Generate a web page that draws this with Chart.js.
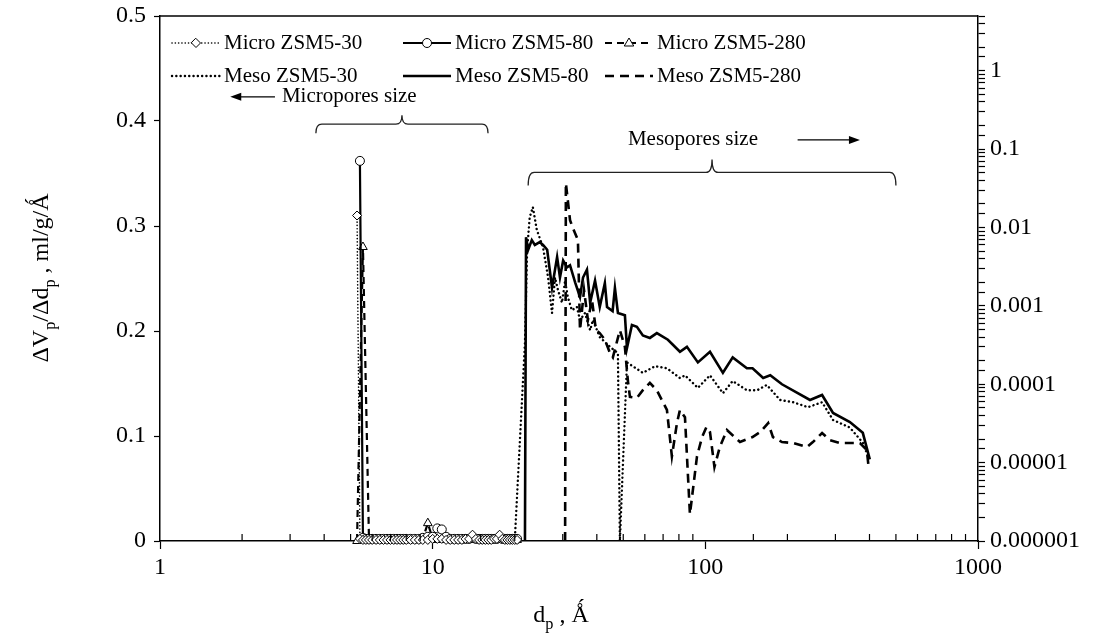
<!DOCTYPE html>
<html>
<head>
<meta charset="utf-8">
<title>Pore size distribution of ZSM5 samples</title>
<script src="https://cdn.jsdelivr.net/npm/chart.js@4.4.1/dist/chart.umd.min.js"></script>
<style>
  html, body { margin: 0; padding: 0; background: #fff; }
  #wrap { width: 1113px; height: 644px; position: relative; }
</style>
</head>
<body>
<div id="wrap"><canvas id="psd"></canvas></div>
<script>
// pore diameters (Å) of the micropore grid, shared by the three micro series
const microSize = [5.28, 5.41, 5.55, 5.69, 5.84, 6.0, 6.2, 6.4, 6.6, 6.8,
  7.0, 7.2, 7.4, 7.6, 7.8, 8.0, 8.3, 8.6, 8.9, 9.2,
  9.6, 10.0, 10.4, 10.8, 11.2, 11.6, 12.0, 12.4, 12.8, 13.2,
  13.6, 14.0, 14.4, 14.8, 15.2, 15.6, 16.0, 16.4, 16.8, 17.2,
  17.6, 18.0, 18.4, 18.8, 19.2, 19.6, 20.0, 20.4];

// dVp/ddp, ml/g/Å (left axis)
const microZsm30 = [0.31, 0.002, 0.001, 0.001, 0.001, 0.001, 0.001, 0.001, 0.001, 0.001,
  0.001, 0.001, 0.001, 0.001, 0.001, 0.001, 0.001, 0.001, 0.001, 0.001,
  0.001, 0.002, 0.002, 0.002, 0.001, 0.001, 0.001, 0.001, 0.001, 0.002,
  0.002, 0.006, 0.002, 0.001, 0.001, 0.001, 0.001, 0.001, 0.002, 0.002,
  0.006, 0.002, 0.001, 0.001, 0.001, 0.001, 0.001, 0.001];
const microZsm80 = [null, 0.362, 0.003, 0.002, 0.002, 0.002, 0.002, 0.002, 0.002, 0.002,
  0.002, 0.002, 0.002, 0.002, 0.002, 0.002, 0.002, 0.002, 0.002, 0.003,
  0.004, 0.004, 0.012, 0.011, 0.004, 0.002, 0.002, 0.002, 0.002, 0.002,
  0.002, 0.003, 0.002, 0.002, 0.002, 0.002, 0.002, 0.002, 0.002, 0.002,
  0.003, 0.002, 0.002, 0.002, 0.002, 0.002, 0.002, 0.002];
const microZsm280 = [0, null, 0.28, null, 0.002, 0.001, 0.001, 0.001, 0.001, 0.001,
  0.001, 0.001, 0.001, 0.001, 0.001, 0.001, 0.001, 0.001, 0.001, 0.002,
  0.017, 0.002, 0.001, 0.001, 0.001, 0.001, 0.001, 0.001, 0.001, 0.001,
  0.001, 0.001, 0.001, 0.001, 0.001, 0.001, 0.001, 0.001, 0.001, 0.001,
  0.001, 0.001, 0.001, 0.001, 0.001, 0.001, 0.001, 0.001];

// mesopore branches (right, logarithmic axis)
const mesoSize30 = [20.0, 21.8, 22.2, 22.7, 23.3, 24.1, 25.4, 26.5, 27.4, 28.1,
  28.8, 29.8, 30.6, 31.3, 32.4, 33.8, 34.7, 36.2, 37.8, 38.7,
  41.0, 44.7, 47.8, 48.6, 51.6, 59.0, 65.4, 72.3, 80.7, 84.2,
  93.9, 104, 116, 126, 142, 155, 168, 188, 210, 238,
  268, 294, 339, 378, 395];
const mesoZsm30 = [0.000001, 0.00034, 0.0052, 0.0136, 0.0182, 0.0093, 0.0056, 0.0023, 0.00081, 0.0023,
  0.0016, 0.0011, 0.0021, 0.0013, 0.00088, 0.00097, 0.00066, 0.00081, 0.00049, 0.00066,
  0.0004, 0.0003, 0.00025, 0.000001, 0.00019, 0.00014, 0.00017, 0.00016, 0.00012, 0.00013,
  0.00009, 0.00013, 0.000077, 0.00011, 0.000084, 0.000084, 0.000098, 0.000063, 0.000059, 0.000051,
  0.000059, 0.000035, 0.000028, 0.000018, 0.000012];

const mesoSize80 = [21.8, 22.0, 22.4, 23.1, 23.7, 24.7, 25.4, 26.3, 27.4, 28.6,
  29.3, 30.1, 31.1, 31.9, 33.3, 34.7, 35.6, 36.8, 37.8, 39.4,
  41.0, 42.8, 43.6, 45.7, 46.6, 47.8, 50.7, 51.6, 53.8, 56.1,
  59.0, 62.6, 66.4, 72.9, 80.7, 85.6, 93.9, 104, 116, 126,
  142, 149, 163, 173, 191, 242, 268, 294, 339, 378, 401];
const mesoZsm80 = [0.000001, 0.0075, 0.0052, 0.0069, 0.006, 0.0065, 0.006, 0.0052, 0.0017, 0.0042,
  0.0023, 0.0038, 0.0031, 0.0033, 0.002, 0.0013, 0.0023, 0.0029, 0.0011, 0.0021,
  0.00097, 0.00195, 0.00097, 0.00086, 0.0017, 0.00081, 0.00076, 0.00029, 0.00057, 0.00054,
  0.00042, 0.00039, 0.00045, 0.00037, 0.00026, 0.0003, 0.00019, 0.00026, 0.00014, 0.00022,
  0.00016, 0.00016, 0.00012, 0.00013, 0.0001, 0.000063, 0.000073, 0.000043, 0.000033, 0.000024, 0.000011];

const mesoSize280 = [30.6, 30.8, 31.9, 32.7, 34.1, 34.7, 35.9, 37.1, 38.4, 39.7,
  41.0, 42.8, 44.7, 45.8, 48.6, 50.7, 52.0, 52.9, 56.1, 59.0,
  62.6, 66.4, 72.3, 75.4, 78.7, 80.7, 84.2, 87.8, 93.2, 97.2,
  101, 104, 108, 113, 120, 134, 149, 159, 170, 177,
  191, 210, 236, 248, 268, 286, 312, 369, 391, 398];
const mesoZsm280 = [0.000001, 0.0368, 0.0124, 0.0098, 0.0069, 0.00049, 0.00159, 0.00066, 0.00119, 0.00049,
  0.00045, 0.00037, 0.00025, 0.00022, 0.00049, 0.0003, 0.00011, 0.000069, 0.000067, 0.000084,
  0.000104, 0.000084, 0.000047, 0.000012, 0.000032, 0.000047, 0.000038, 0.0000022, 0.000012, 0.000021,
  0.0000285, 0.0000246, 0.0000088, 0.0000158, 0.0000261, 0.0000183, 0.0000212, 0.0000246, 0.000032, 0.0000212,
  0.0000183, 0.0000178, 0.0000158, 0.0000183, 0.0000239, 0.0000194, 0.0000178, 0.0000178, 0.0000145, 0.0000081];

// labelled ticks
const xTickValues = [1, 10, 100, 1000];
const xTickLabels = ['1', '10', '100', '1000'];
const leftTickValues = [0, 0.1, 0.2, 0.3, 0.4, 0.5];
const leftTickLabels = ['0', '0.1', '0.2', '0.3', '0.4', '0.5'];
const rightTickValues = [0.000001, 0.00001, 0.0001, 0.001, 0.01, 0.1, 1];
const rightTickLabels = ['0.000001', '0.00001', '0.0001', '0.001', '0.01', '0.1', '1'];

const serif = '"Liberation Serif", "Times New Roman", "DejaVu Serif", serif';
const TICK_FONT = 24;
const TEXT_FONT = 21;

function points(sizes, values) {
  return sizes.map((d, i) => ({ x: d, y: values[i] }));
}

// finds the label of a tick when it sits on one of the labelled values
function labelFor(value, values, labels, logScale) {
  for (let i = 0; i < values.length; i++) {
    const a = values[i];
    const close = logScale
      ? Math.abs(Math.log10(value) - Math.log10(a)) < 1e-6
      : Math.abs(value - a) < 1e-9;
    if (close) return labels[i];
  }
  return '';
}

function markerPath(ctx, style, x, y, r) {
  ctx.beginPath();
  if (style === 'circle') {
    ctx.arc(x, y, r, 0, Math.PI * 2);
  } else if (style === 'rectRot') {
    ctx.moveTo(x, y - r); ctx.lineTo(x + r, y); ctx.lineTo(x, y + r); ctx.lineTo(x - r, y);
    ctx.closePath();
  } else {
    ctx.moveTo(x, y - r); ctx.lineTo(x + r * 0.95, y + r * 0.6); ctx.lineTo(x - r * 0.95, y + r * 0.6);
    ctx.closePath();
  }
}

// text with subscript parts, centred on x
function drawRich(ctx, parts, x, y, size) {
  const widths = parts.map(([s, sub]) => {
    ctx.font = (sub ? size * 0.68 : size) + 'px ' + serif;
    return ctx.measureText(s).width;
  });
  let cx = x - widths.reduce((a, b) => a + b, 0) / 2;
  parts.forEach(([s, sub], i) => {
    ctx.font = (sub ? size * 0.68 : size) + 'px ' + serif;
    ctx.fillText(s, cx, y + (sub ? size * 0.28 : 0));
    cx += widths[i];
  });
}

function drawBrace(ctx, x0, x1, y, depth) {
  const xm = (x0 + x1) / 2;
  const r = 6;
  ctx.beginPath();
  ctx.moveTo(x0, y + depth);
  ctx.quadraticCurveTo(x0, y, x0 + r, y);
  ctx.lineTo(xm - r, y);
  ctx.quadraticCurveTo(xm, y, xm, y - depth);
  ctx.quadraticCurveTo(xm, y, xm + r, y);
  ctx.lineTo(x1 - r, y);
  ctx.quadraticCurveTo(x1, y, x1, y + depth);
  ctx.stroke();
}

function drawArrow(ctx, xTail, xHead, y) {
  const dir = Math.sign(xHead - xTail);
  ctx.beginPath();
  ctx.moveTo(xTail, y);
  ctx.lineTo(xHead - dir * 8, y);
  ctx.stroke();
  ctx.beginPath();
  ctx.moveTo(xHead, y);
  ctx.lineTo(xHead - dir * 11, y - 4);
  ctx.lineTo(xHead - dir * 11, y + 4);
  ctx.closePath();
  ctx.fill();
}

// keep the plot box fixed: no extra room for half-height edge labels
function noEdgePadding(s) {
  s.paddingTop = 0;
  s.paddingBottom = 0;
  s.paddingLeft = 0;
  s.paddingRight = 0;
}

// top edge of the box, inward minor ticks, axis titles, braces and the legend
const decorations = {
  id: 'decorations',
  afterDraw(chart) {
    const { ctx, chartArea: a, scales } = chart;
    const x = scales.x, y = scales.y;
    ctx.save();
    ctx.strokeStyle = '#000';
    ctx.fillStyle = '#000';

    ctx.lineWidth = 1.5;
    ctx.beginPath(); ctx.moveTo(a.left, a.top); ctx.lineTo(a.right, a.top); ctx.stroke();

    ctx.lineWidth = 1.2;
    x.ticks.forEach(t => {
      if (labelFor(t.value, xTickValues, xTickLabels, true)) return;
      const px = x.getPixelForValue(t.value);
      ctx.beginPath(); ctx.moveTo(px, a.bottom); ctx.lineTo(px, a.bottom - 7); ctx.stroke();
    });

    // axis titles
    ctx.textBaseline = 'alphabetic';
    drawRich(ctx, [['d', false], ['p', true], [' , Ǻ', false]], (a.left + a.right) / 2 - 8, 622, 24);
    ctx.save();
    ctx.translate(40, 278);
    ctx.rotate(-Math.PI / 2);
    drawRich(ctx, [['ΔV', false], ['p', true], ['/Δd', false], ['p', true], [' , ml/g/Ǻ', false]], 0, 8, 24);
    ctx.restore();

    // pore range annotations
    ctx.lineWidth = 1.3;
    ctx.strokeStyle = '#222';
    drawBrace(ctx, x.getPixelForValue(3.73), x.getPixelForValue(15.96), y.getPixelForValue(0.397), 9);
    drawBrace(ctx, x.getPixelForValue(22.4), x.getPixelForValue(500), y.getPixelForValue(0.351), 13);
    ctx.strokeStyle = '#000';
    drawArrow(ctx, x.getPixelForValue(2.64), x.getPixelForValue(1.81), y.getPixelForValue(0.423));
    drawArrow(ctx, x.getPixelForValue(218), x.getPixelForValue(369), y.getPixelForValue(0.382));
    ctx.font = TEXT_FONT + 'px ' + serif;
    ctx.textBaseline = 'middle';
    ctx.textAlign = 'left';
    ctx.fillText('Micropores size', x.getPixelForValue(2.8), y.getPixelForValue(0.423));
    ctx.fillText('Mesopores size', x.getPixelForValue(52), y.getPixelForValue(0.382));

    // legend, two rows of three
    const cols = [172, 403, 605];
    const rows = [43, 76];
    const sampleW = 48;
    chart.data.datasets.forEach((ds, i) => {
      const cx = cols[i % 3], cy = rows[Math.floor(i / 3)];
      ctx.save();
      ctx.strokeStyle = '#000';
      ctx.lineWidth = ds.borderWidth;
      ctx.setLineDash(ds.borderDash || []);
      ctx.lineCap = ds.borderCapStyle || 'butt';
      ctx.beginPath(); ctx.moveTo(cx, cy); ctx.lineTo(cx + sampleW, cy); ctx.stroke();
      ctx.setLineDash([]);
      if (ds.pointRadius > 0) {
        ctx.fillStyle = '#fff';
        ctx.lineWidth = 1;
        markerPath(ctx, ds.pointStyle, cx + sampleW / 2, cy, ds.pointRadius);
        ctx.fill(); ctx.stroke();
      }
      ctx.restore();
      ctx.fillText(ds.label, cx + sampleW + 4, cy);
    });
    ctx.restore();
  }
};

const microStyle = {
  yAxisID: 'y', borderColor: '#000', pointBackgroundColor: '#fff', pointBorderColor: '#000',
  pointBorderWidth: 1, pointHoverRadius: 0, spanGaps: true, clip: false, tension: 0
};
const mesoStyle = {
  yAxisID: 'y2', borderColor: '#000', pointRadius: 0, pointHoverRadius: 0, tension: 0
};

const datasets = [
  Object.assign({ label: 'Micro ZSM5-30', data: points(microSize, microZsm30),
    borderWidth: 1.6, borderDash: [0.1, 3.2], borderCapStyle: 'round', pointStyle: 'rectRot', pointRadius: 4.5 }, microStyle),
  Object.assign({ label: 'Micro ZSM5-80', data: points(microSize, microZsm80),
    borderWidth: 2.2, pointStyle: 'circle', pointRadius: 4.5 }, microStyle),
  Object.assign({ label: 'Micro ZSM5-280', data: points(microSize, microZsm280),
    borderWidth: 2.2, borderDash: [7, 5], pointStyle: 'triangle', pointRadius: 5 }, microStyle),
  Object.assign({ label: 'Meso ZSM5-30', data: points(mesoSize30, mesoZsm30),
    borderWidth: 2.4, borderDash: [0.1, 4.2], borderCapStyle: 'round' }, mesoStyle),
  Object.assign({ label: 'Meso ZSM5-80', data: points(mesoSize80, mesoZsm80),
    borderWidth: 2.6 }, mesoStyle),
  Object.assign({ label: 'Meso ZSM5-280', data: points(mesoSize280, mesoZsm280),
    borderWidth: 2.6, borderDash: [9, 6] }, mesoStyle)
];

const tickFont = { family: serif, size: TICK_FONT };

new Chart(document.getElementById('psd'), {
  type: 'line',
  data: { datasets },
  options: {
    responsive: true,
    maintainAspectRatio: false,
    devicePixelRatio: 1,
    animation: false,
    events: [],
    layout: { padding: { top: 16, left: 0, right: 0, bottom: 0 } },
    plugins: { legend: { display: false }, tooltip: { enabled: false } },
    scales: {
      x: {
        type: 'logarithmic',
        min: 1,
        max: 1000,
        border: { display: true, color: '#000', width: 1.5 },
        grid: {
          drawOnChartArea: false,
          tickLength: 8,
          tickWidth: 1.2,
          tickColor: c => labelFor(c.tick.value, xTickValues, xTickLabels, true) ? '#000' : 'rgba(0,0,0,0)'
        },
        ticks: {
          font: tickFont, color: '#000', padding: 4, autoSkip: false, maxRotation: 0,
          callback: v => labelFor(v, xTickValues, xTickLabels, true)
        },
        afterFit: s => { s.height = 103; noEdgePadding(s); }
      },
      y: {
        type: 'linear',
        position: 'left',
        min: 0,
        max: 0.5,
        border: { display: true, color: '#000', width: 1.5 },
        grid: { drawOnChartArea: false, tickLength: 6, tickWidth: 1.2, tickColor: '#000' },
        ticks: {
          font: tickFont, color: '#000', padding: 8, stepSize: 0.1,
          callback: v => labelFor(v, leftTickValues, leftTickLabels, false)
        },
        afterFit: s => { s.width = 160; noEdgePadding(s); }
      },
      y2: {
        type: 'logarithmic',
        position: 'right',
        min: 0.000001,
        max: 5,
        border: { display: true, color: '#000', width: 1.5 },
        grid: { drawOnChartArea: false, tickLength: 7, tickWidth: 1.2, tickColor: '#000' },
        ticks: {
          font: tickFont, color: '#000', padding: 5, autoSkip: false,
          callback: v => labelFor(v, rightTickValues, rightTickLabels, true)
        },
        afterFit: s => { s.width = 135; noEdgePadding(s); }
      }
    }
  },
  plugins: [decorations]
});
</script>
</body>
</html>
